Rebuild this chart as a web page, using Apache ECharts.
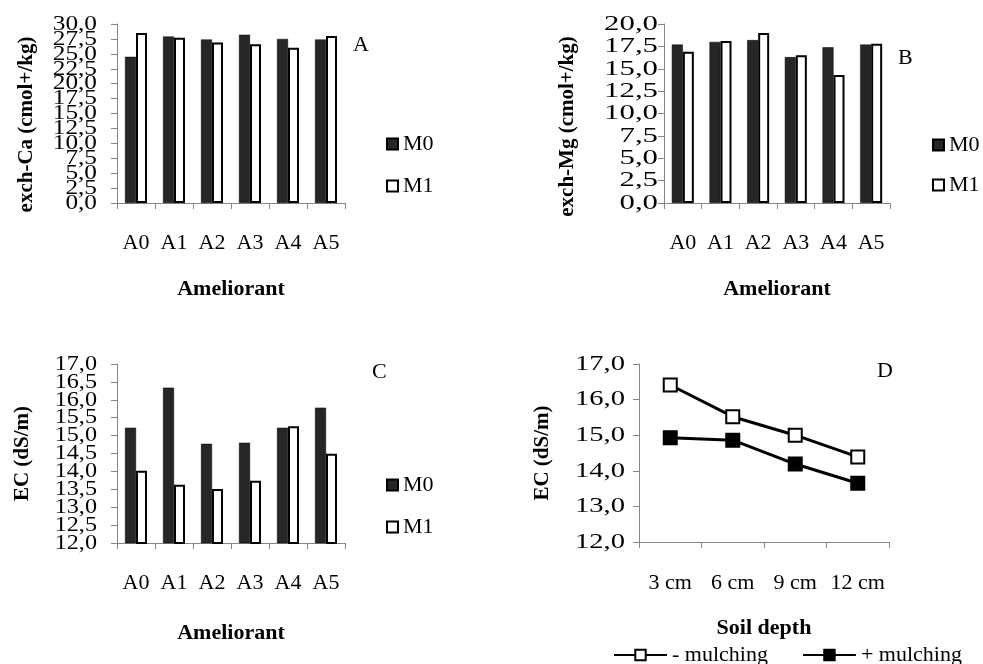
<!DOCTYPE html>
<html>
<head>
<meta charset="utf-8">
<script src="https://cdn.jsdelivr.net/npm/echarts@6/dist/echarts.min.js"></script>
<style>html,body{margin:0;padding:0;background:#fff;}#c{width:983px;height:664px;}</style>
</head>
<body>
<div id="c"></div>
<script>
var cats = ['A0','A1','A2','A3','A4','A5'];
var caM0 = [24.5, 27.9, 27.4, 28.2, 27.5, 27.4];
var caM1 = [28.5, 27.7, 26.9, 26.6, 26.0, 28.0];
var mgM0 = [17.7, 18.0, 18.2, 16.3, 17.4, 17.7];
var mgM1 = [16.9, 18.1, 19.0, 16.5, 14.3, 17.8];
var ecM0 = [15.22, 16.34, 14.77, 14.80, 15.22, 15.78];
var ecM1 = [14.02, 13.63, 13.51, 13.74, 15.26, 14.49];
var depths = ['3 cm','6 cm','9 cm','12 cm'];
var ecNoMulch = [16.41, 15.52, 15.00, 14.39];
var ecMulch = [14.93, 14.86, 14.19, 13.65];
var ticksCa = [0, 2.5, 5, 7.5, 10, 12.5, 15, 17.5, 20, 22.5, 25, 27.5, 30];
var ticksMg = [0, 2.5, 5, 7.5, 10, 12.5, 15, 17.5, 20];
var ticksEC = [12, 12.5, 13, 13.5, 14, 14.5, 15, 15.5, 16, 16.5, 17];
var ticksD = [12, 13, 14, 15, 16, 17];

var FONT = 'Liberation Serif';
var AX = '#868686';
function fmt(v){ return v.toFixed(1).replace('.', ','); }

function xCat(gi, data, name, nameGap, margin){
  return {
    type:'category', gridIndex:gi, data:data, boundaryGap:true,
    axisLine:{lineStyle:{color:AX,width:1}},
    axisTick:{show:true,length:6,lineStyle:{color:AX},alignWithLabel:false},
    axisLabel:{color:'#000',fontFamily:FONT,fontSize:22,margin:margin,interval:0},
    name:name, nameLocation:'middle', nameGap:nameGap,
    nameTextStyle:{color:'#000',fontFamily:FONT,fontSize:22,fontWeight:'bold'}
  };
}
function yVal(gi, min, max, interval, name, nameGap, pad){
  return {
    type:'value', gridIndex:gi, min:min, max:max, interval:interval,
    splitLine:{show:false},
    axisLine:{show:true,lineStyle:{color:AX,width:1}},
    axisTick:{show:true,length:6,lineStyle:{color:AX}},
    axisLabel:{show:false},
    name:name, nameLocation:'middle', nameGap:nameGap, nameMoveOverlap:false,
    nameTextStyle:{color:'#000',fontFamily:FONT,fontSize:21,fontWeight:'bold',padding:pad||0}
  };
}
// tick labels drawn through the axis scale (all shown even when overlapping, as in the original)
function tickLabels(i, ticks, margin, sx){
  return {
    type:'custom', xAxisIndex:i, yAxisIndex:i, clip:false, silent:true, z:5,
    data: ticks.map(function(t){ return [0, t]; }),
    encode:{x:0, y:1},
    renderItem:function(params, api){
      var p = api.coord([0, api.value(1)]);
      return {type:'text', x: params.coordSys.x - margin, y: p[1], scaleX: sx, scaleY: 1,
        style:{text: fmt(api.value(1)), fill:'#000', font:'22px "Liberation Serif"', align:'right', verticalAlign:'middle'}};
    }
  };
}
function barM0(i, data){
  return {name:'M0', type:'bar', xAxisIndex:i, yAxisIndex:i, data:data, barWidth:11, barGap:'0%',
    itemStyle:{color:'#262626', borderColor:'#000', borderWidth:0.5}, clip:true};
}
function barM1(i, data){
  return {name:'M1', type:'bar', xAxisIndex:i, yAxisIndex:i, data:data, barWidth:11, barGap:'0%',
    itemStyle:{color:'#fff', borderColor:'#000', borderWidth:2}, clip:true};
}
function barLegend(left, top, gap){
  return {data:['M0','M1'], orient:'vertical', left:left, top:top, padding:0, itemWidth:11, itemHeight:11, itemGap:gap,
    icon:'rect', textStyle:{color:'#000',fontFamily:FONT,fontSize:22,lineHeight:22}, selectedMode:false};
}
function letter(t, x, y){
  return {type:'text', left:x, top:y, style:{text:t, fill:'#000', font:'22px "Liberation Serif"'}};
}

var option = {
  animation:false,
  backgroundColor:'#fff',
  grid:[
    {left:117, top:24, width:228, height:179, outerBoundsMode:'none'},
    {left:664, top:24, width:226, height:179, outerBoundsMode:'none'},
    {left:117, top:364, width:228, height:179, outerBoundsMode:'none'},
    {left:639, top:364, width:250, height:178, outerBoundsMode:'none'}
  ],
  xAxis:[
    xCat(0, cats, 'Ameliorant', 75, 29),
    xCat(1, cats, 'Ameliorant', 75, 29),
    xCat(2, cats, 'Ameliorant', 79, 29),
    xCat(3, depths, 'Soil depth', 75, 30)
  ],
  yAxis:[
    yVal(0, 0, 30, 2.5, 'exch-Ca (cmol+/kg)', 80, [0,22,0,0]),
    yVal(1, 0, 20, 2.5, 'exch-Mg (cmol+/kg)', 86, [0,26,0,0]),
    yVal(2, 12, 17, 0.5, 'EC (dS/m)', 84, 0),
    yVal(3, 12, 17, 1, 'EC (dS/m)', 86, 0)
  ],
  legend:[
    barLegend(386, 133, 20),
    barLegend(932, 134, 18),
    barLegend(386, 474, 20),
    {data:['- mulching','+ mulching'], orient:'horizontal', left:613, top:644, padding:0, itemWidth:53, itemHeight:13, itemGap:34,
      textStyle:{color:'#000',fontFamily:FONT,fontSize:22,lineHeight:22}, selectedMode:false}
  ],
  graphic:[
    letter('A', 353, 34),
    letter('B', 898, 47),
    letter('C', 372, 361),
    letter('D', 877, 360)
  ],
  series:[
    barM0(0, caM0), barM1(0, caM1),
    barM0(1, mgM0), barM1(1, mgM1),
    barM0(2, ecM0), barM1(2, ecM1),
    {name:'- mulching', type:'line', xAxisIndex:3, yAxisIndex:3, data:ecNoMulch, symbol:'rect', symbolSize:13,
      lineStyle:{color:'#000', width:3}, itemStyle:{color:'#fff', borderColor:'#000', borderWidth:2}},
    {name:'+ mulching', type:'line', xAxisIndex:3, yAxisIndex:3, data:ecMulch, symbol:'rect', symbolSize:13,
      lineStyle:{color:'#000', width:3}, itemStyle:{color:'#000', borderColor:'#000', borderWidth:2}},
    tickLabels(0, ticksCa, 20, 1.15),
    tickLabels(1, ticksMg, 6, 1.4),
    tickLabels(2, ticksEC, 20, 1.1),
    tickLabels(3, ticksD, 14, 1.3)
  ]
};
var chart = echarts.init(document.getElementById('c'), null, {renderer:'canvas'});
chart.setOption(option);
</script>
</body>
</html>
